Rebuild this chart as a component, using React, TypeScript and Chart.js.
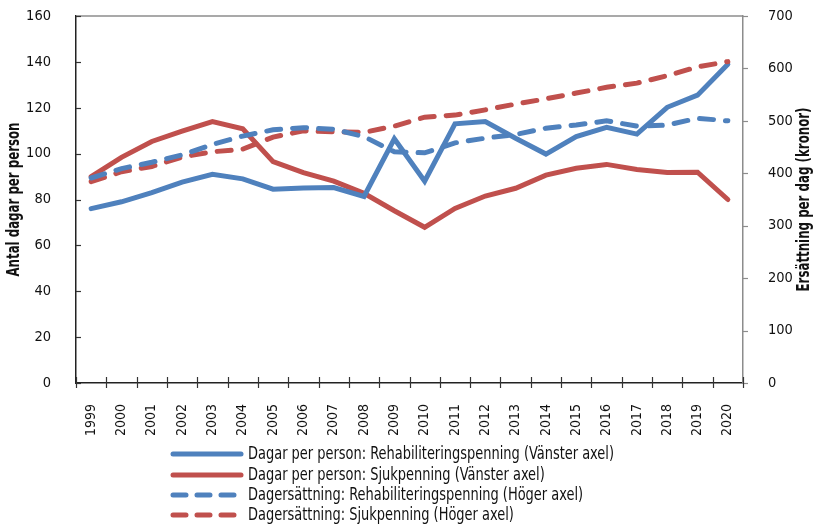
import React, { useEffect, useRef } from "react";
import { Chart, registerables } from "chart.js";

Chart.register(...registerables);

const years = ["1999","2000","2001","2002","2003","2004","2005","2006","2007","2008","2009","2010","2011","2012","2013","2014","2015","2016","2017","2018","2019","2020"];

// Dagar per person (left axis)
const dagarRehab = [76, 79, 83, 87.6, 91, 89, 84.5, 85, 85.2, 81.3, 106.5, 88, 113, 114, 106.7, 99.8, 107.4, 111.5, 108.5, 120.2, 125.5, 139];
const dagarSjuk = [90, 98.4, 105.3, 109.8, 114, 110.8, 96.5, 91.7, 88, 82.7, 75.1, 67.9, 76.1, 81.5, 84.9, 90.6, 93.6, 95.3, 93.1, 91.8, 91.9, 80];

// Dagersättning (right axis, kronor)
const ersRehab = [391, 409, 421, 435, 455, 471, 483, 487, 484, 470, 441, 439, 458, 467, 474, 486, 492, 500, 490, 492, 505, 500];
const ersSjuk = [384, 403, 413, 431, 441, 446, 469, 481, 479, 478, 490, 507, 511, 521, 532, 542, 553, 564, 572, 586, 603, 613];

const legendLabels = [
  "Dagar per person: Rehabiliteringspenning (Vänster axel)",
  "Dagar per person: Sjukpenning (Vänster axel)",
  "Dagersättning: Rehabiliteringspenning (Höger axel)",
  "Dagersättning: Sjukpenning (Höger axel)",
];

const leftTitle = "Antal dagar per person";
const rightTitle = "Ersättning per dag (kronor)";

const BLUE = "#4F81BD";
const RED = "#C0504D";
const FONT = "'DejaVu Sans Condensed', 'Liberation Sans Narrow', sans-serif";
const DASH = [14, 12];

function drawCondensed(ctx: CanvasRenderingContext2D, text: string, targetWidth: number) {
  const w = ctx.measureText(text).width;
  const s = Math.min(1, targetWidth / w);
  ctx.save();
  ctx.scale(s, 1);
  ctx.textAlign = "center";
  ctx.fillText(text, 0, 0);
  ctx.restore();
}

const extrasPlugin = {
  id: "extras",
  afterDraw(chart: any) {
    const ctx = chart.ctx as CanvasRenderingContext2D;
    const a = chart.chartArea;
    const sy = chart.scales.y;
    const sy1 = chart.scales.y1;
    const sx = chart.scales.x;
    ctx.save();
    // top border
    ctx.strokeStyle = "#8c8c8c";
    ctx.lineWidth = 1.5;
    ctx.beginPath();
    ctx.moveTo(a.left, a.top);
    ctx.lineTo(a.right, a.top);
    ctx.stroke();
    // left ticks (inward)
    ctx.strokeStyle = "#333";
    ctx.lineWidth = 1.2;
    sy.ticks.forEach((t: any) => {
      const y = Math.round(sy.getPixelForValue(t.value)) + 0.5;
      ctx.beginPath();
      ctx.moveTo(a.left, y);
      ctx.lineTo(a.left + 5, y);
      ctx.stroke();
    });
    // right ticks (outward)
    ctx.strokeStyle = "#8c8c8c";
    sy1.ticks.forEach((t: any) => {
      const y = Math.round(sy1.getPixelForValue(t.value)) + 0.5;
      ctx.beginPath();
      ctx.moveTo(a.right, y);
      ctx.lineTo(a.right + 5, y);
      ctx.stroke();
    });
    // x ticks between categories (crossing the axis)
    ctx.strokeStyle = "#333";
    for (let i = 0; i <= years.length; i++) {
      const x = Math.round(sx.getPixelForValue(i - 0.5)) + 0.5;
      ctx.beginPath();
      ctx.moveTo(x, a.bottom - 6);
      ctx.lineTo(x, a.bottom + 5);
      ctx.stroke();
    }
    // axis titles
    ctx.fillStyle = "#111";
    ctx.font = `bold 17px ${FONT}`;
    ctx.textBaseline = "middle";
    const cy = (a.top + a.bottom) / 2;
    ctx.save();
    ctx.translate(15, cy);
    ctx.rotate(-Math.PI / 2);
    drawCondensed(ctx, leftTitle, 154);
    ctx.restore();
    ctx.save();
    ctx.translate(805, cy);
    ctx.rotate(-Math.PI / 2);
    drawCondensed(ctx, rightTitle, 184);
    ctx.restore();
    // legend
    const rows = [454, 475, 495, 515];
    ctx.font = `17px ${FONT}`;
    ctx.textBaseline = "middle";
    const s = Math.min(1, 366 / ctx.measureText(legendLabels[0]).width);
    const order = [2, 3, 0, 1];
    order.forEach((di, k) => {
      const ds = chart.data.datasets[di];
      const y = rows[k];
      ctx.strokeStyle = ds.borderColor;
      ctx.lineWidth = 5;
      ctx.lineCap = "round";
      ctx.setLineDash(ds.borderDash && ds.borderDash.length ? [13, 11] : []);
      ctx.beginPath();
      ctx.moveTo(173, y);
      ctx.lineTo(241, y);
      ctx.stroke();
      ctx.setLineDash([]);
      ctx.fillStyle = "#111";
      ctx.save();
      ctx.translate(248, y + 1);
      ctx.scale(s, 1);
      ctx.textAlign = "left";
      ctx.fillText(legendLabels[k], 0, 0);
      ctx.restore();
    });
    ctx.restore();
  },
};

export default function App() {
  const ref = useRef<HTMLCanvasElement>(null);
  useEffect(() => {
    if (!ref.current) return;
    const chart = new Chart(ref.current, {
      type: "line",
      data: {
        labels: years,
        datasets: [
          { label: legendLabels[2], data: ersRehab, yAxisID: "y1", borderColor: BLUE, backgroundColor: BLUE, borderWidth: 5, borderDash: DASH, borderCapStyle: "round", pointRadius: 0, tension: 0 },
          { label: legendLabels[3], data: ersSjuk, yAxisID: "y1", borderColor: RED, backgroundColor: RED, borderWidth: 5, borderDash: DASH, borderCapStyle: "round", pointRadius: 0, tension: 0 },
          { label: legendLabels[0], data: dagarRehab, yAxisID: "y", borderColor: BLUE, backgroundColor: BLUE, borderWidth: 5, borderCapStyle: "round", pointRadius: 0, tension: 0 },
          { label: legendLabels[1], data: dagarSjuk, yAxisID: "y", borderColor: RED, backgroundColor: RED, borderWidth: 5, borderCapStyle: "round", pointRadius: 0, tension: 0 },
        ],
      },
      options: {
        animation: false,
        responsive: false,
        maintainAspectRatio: false,
        layout: { padding: { top: 16, left: 0, right: 0, bottom: 0 } },
        plugins: { legend: { display: false }, tooltip: { enabled: false } },
        scales: {
          x: {
            type: "category",
            offset: true,
            grid: { display: false, offset: true },
            border: { display: true, color: "#222", width: 1.5 },
            ticks: { color: "#111", font: { family: FONT, size: 14 }, minRotation: 90, maxRotation: 90, padding: 13, autoSkip: false },
            afterFit(scale: any) { scale.height = 143; scale.paddingLeft = 0; scale.paddingRight = 0; },
          },
          y: {
            position: "left",
            min: 0,
            max: 160,
            grid: { display: false },
            border: { display: true, color: "#222", width: 1.5 },
            ticks: { stepSize: 20, color: "#111", font: { family: FONT, size: 14.5 }, padding: 17 },
            afterFit(scale: any) { scale.width = 76; scale.paddingTop = 9; scale.paddingBottom = 9; },
          },
          y1: {
            position: "right",
            min: 0,
            max: 700,
            grid: { display: false },
            border: { display: true, color: "#8c8c8c", width: 1.5 },
            ticks: { stepSize: 100, color: "#111", font: { family: FONT, size: 14.5 }, padding: 17 },
            afterFit(scale: any) { scale.width = 73; scale.paddingTop = 9; scale.paddingBottom = 9; },
          },
        },
      },
      plugins: [extrasPlugin],
    });
    return () => chart.destroy();
  }, []);
  return (
    <div style={{ position: "absolute", left: 0, top: 0, width: 816, height: 526, background: "#fff" }}>
      <canvas ref={ref} width={816} height={526} style={{ width: 816, height: 526 }} />
    </div>
  );
}
